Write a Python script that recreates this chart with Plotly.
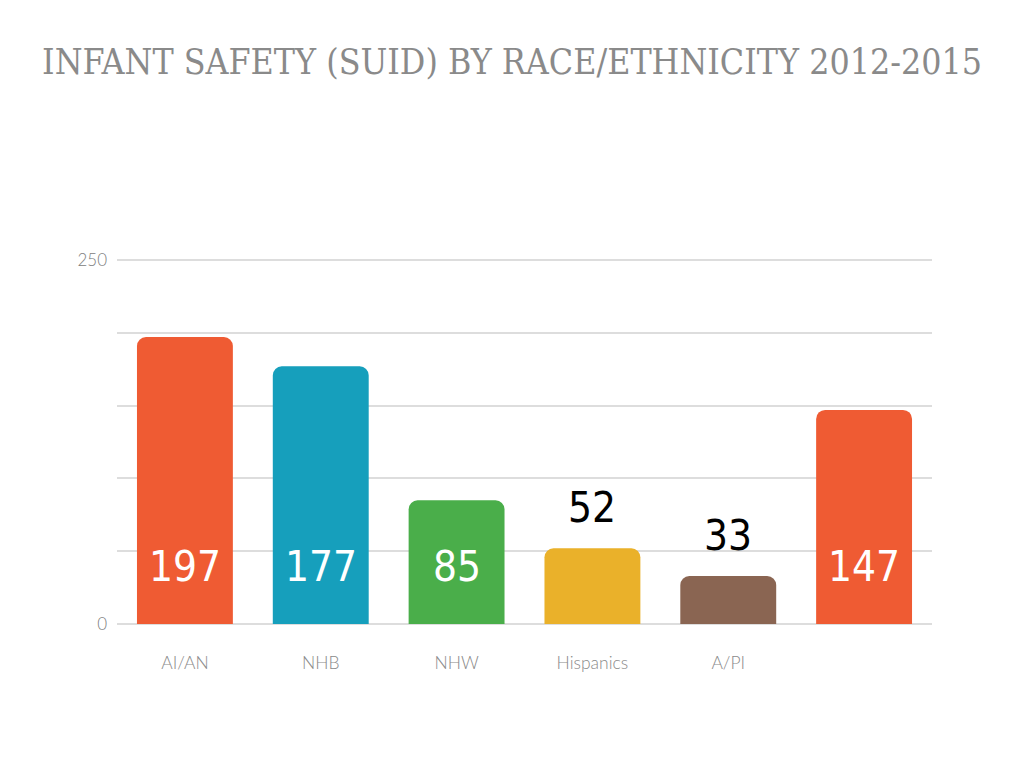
import plotly.graph_objects as go

categories = ["AI/AN", "NHB", "NHW", "Hispanics", "A/PI", ""]
values = [197, 177, 85, 52, 33, 147]
colors = ["#EF5B33", "#169FBC", "#4AAE4A", "#EAB12A", "#8A6552", "#EF5B33"]
y_tickvals = [0, 50, 100, 150, 200, 250]
y_ticktext = ["0", "", "", "", "", "250"]

x = list(range(len(categories)))

fig = go.Figure()
fig.add_trace(go.Bar(
    x=x, y=values,
    marker=dict(color=colors, cornerradius=9, line=dict(width=0)),
    width=0.706,
    hoverinfo="skip",
))

num_font = "Liberation Sans Narrow, DejaVu Sans Condensed, sans-serif"
for i, v in enumerate(values):
    if v >= 80:
        fig.add_annotation(x=i, y=0, yshift=58, text=str(v), showarrow=False,
                           font=dict(family=num_font, size=42, color="white", weight=300))
    else:
        fig.add_annotation(x=i, y=v, yshift=41, text=str(v), showarrow=False,
                           font=dict(family=num_font, size=42, color="black", weight=300))

fig.update_layout(
    width=1024, height=768,
    paper_bgcolor="white", plot_bgcolor="white",
    margin=dict(l=109, r=100, t=249, b=149),
    showlegend=False,
    title=dict(text="INFANT SAFETY (SUID) BY RACE/ETHNICITY 2012-2015",
               x=0.5 - 8 / 1024, xanchor="center", y=1 - 54 / 768, yanchor="middle",
               font=dict(family="DejaVu Serif Condensed", size=35.4, color="#8a8a8a")),
)
fig.update_xaxes(
    tickvals=x, ticktext=categories, range=[-0.5, len(categories) - 0.5],
    showgrid=False, zeroline=False, showline=False, ticks="",
    ticklabelstandoff=23,
    tickfont=dict(family="Lato", size=17.5, color="#8a8a8a", weight=300),
)
fig.update_yaxes(
    range=[-2, 252], tickvals=y_tickvals, ticktext=y_ticktext,
    showgrid=True, gridcolor="#dddddd", gridwidth=2,
    zeroline=True, zerolinecolor="#dddddd", zerolinewidth=2,
    showline=False, ticks="",
    ticklabelstandoff=9,
    tickfont=dict(family="Lato", size=17, color="#808080", weight=300),
)

fig.write_html("out.html")
